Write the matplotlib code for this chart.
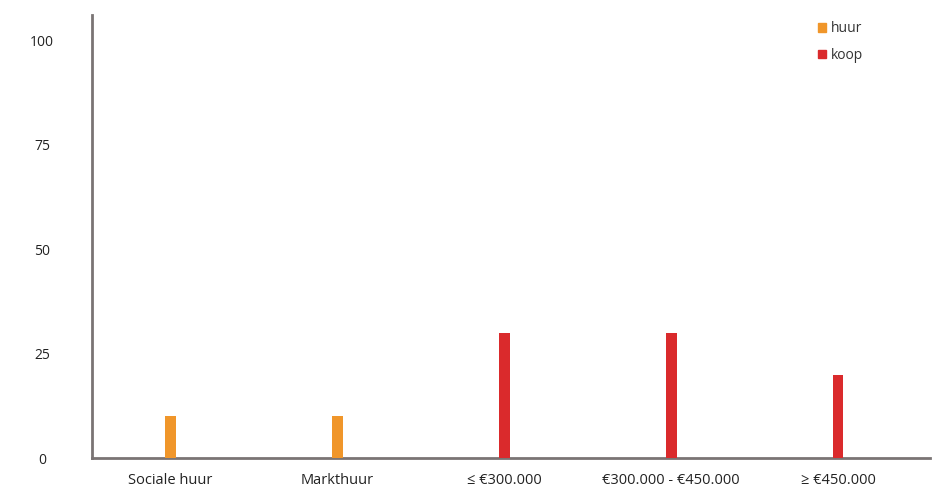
import matplotlib
matplotlib.use("Agg")
import matplotlib.pyplot as plt
from matplotlib.patches import Patch
import numpy as np

# data
categories = ["Sociale huur", "Markthuur", "≤ €300.000", "€300.000 - €450.000", "≥ €450.000"]
values = [10, 10, 30, 30, 20]
groups = ["huur", "huur", "koop", "koop", "koop"]
colors = {"huur": "#F0962A", "koop": "#DA2A2C"}
yticks = [0, 25, 50, 75, 100]

plt.rcParams['font.family'] = ['Open Sans', 'DejaVu Sans']

fig = plt.figure(figsize=(9.41, 4.91), dpi=100)
ax = fig.add_axes([0.098, 0.067, 0.89, 0.902])

x = np.arange(len(categories))
for xi, v, g in zip(x, values, groups):
    ax.bar(xi, v, width=0.065, color=colors[g], zorder=3)

# legend
handles = [Patch(color=colors["huur"], label="huur"),
           Patch(color=colors["koop"], label="koop")]
ax.legend(handles=handles, loc="upper right", frameon=False, fontsize=10,
          handlelength=0.6, handleheight=0.6, handletextpad=0.3,
          labelspacing=0.85, bbox_to_anchor=(0.935, 1.015), labelcolor="#333333")

ax.set_xlim(-0.47, 4.55)
ax.set_ylim(0, 106)
ax.set_xticks(x)
ax.set_xticklabels(categories, fontsize=10.5, color="#222222")
ax.set_yticks(yticks)
ax.set_yticklabels([str(t) for t in yticks], fontsize=10, color="#222222")
ax.tick_params(axis="both", length=0)
ax.tick_params(axis="x", pad=11)
ax.tick_params(axis="y", pad=36)
for lab in ax.get_yticklabels():
    lab.set_horizontalalignment("center")

for s in ["top", "right"]:
    ax.spines[s].set_visible(False)
for s in ["left", "bottom"]:
    ax.spines[s].set_color("#7a7474")
    ax.spines[s].set_linewidth(2)

plt.savefig("out.png", dpi=100)
